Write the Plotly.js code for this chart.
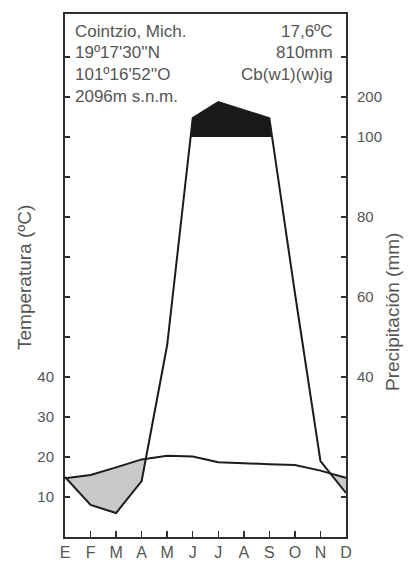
<!DOCTYPE html>
<html>
<head>
<meta charset="utf-8">
<script src="https://cdn.plot.ly/plotly-3.0.1.min.js"></script>
<style>html,body{margin:0;padding:0;background:#fff;}#chart{width:408px;height:563px;}</style>
</head>
<body>
<div id="chart"></div>
<script>
// ---- data ----
const months = ['E','F','M','A','M','J','J','A','S','O','N','D'];
const temperature = [14.7, 15.5, 17.4, 19.4, 20.3, 20.1, 18.7, 18.4, 18.2, 18.0, 16.6, 14.8];
const precipitation = [15, 8, 6, 14, 48, 147, 187, 167, 147, 61, 19, 11];
const stationLeft = ['Cointzio, Mich.', "19º17'30''N", "101º16'52''O", '2096m s.n.m.'];
const stationRight = ['17,6ºC', '810mm', 'Cb(w1)(w)ig'];
const tempTickLabels = ['10','20','30','40'];
const precTickLabels = {40:'40', 60:'60', 80:'80', 100:'100', 200:'200'};

// Walter-Lieth precipitation scale: linear up to 100 mm, 1/10 above
function pScale(p){ return p <= 100 ? p : 100 + (p - 100) / 10; }
const precD = precipitation.map(pScale);
const xIdx = months.map((m,i)=>i);

function interp(arr, x){
  const i = Math.min(Math.floor(x), arr.length - 2);
  const f = x - i;
  return arr[i] + (arr[i+1] - arr[i]) * f;
}
const xs = [];
for (let i = 0; i < xIdx.length; i++){
  xs.push(i);
  if (i < xIdx.length - 1){
    const cands = [];
    const d0 = temperature[i] - precD[i], d1 = temperature[i+1] - precD[i+1];
    if (d0 * d1 < 0) cands.push(i + d0 / (d0 - d1));
    const e0 = precD[i] - 100, e1 = precD[i+1] - 100;
    if (e0 * e1 < 0) cands.push(i + e0 / (e0 - e1));
    cands.sort((a,b)=>a-b).forEach(c=>xs.push(c));
  }
}
function regions(upperF, lowerF){
  const px = [], py = [];
  let seg = [];
  const flush = () => {
    if (seg.length >= 2){
      seg.forEach(x=>{px.push(x); py.push(upperF(x));});
      seg.slice().reverse().forEach(x=>{px.push(x); py.push(lowerF(x));});
      px.push(null); py.push(null);
    }
    seg = [];
  };
  xs.forEach(x=>{
    if (upperF(x) - lowerF(x) >= -1e-9) seg.push(x); else flush();
  });
  flush();
  return {x: px, y: py};
}
const T = x => interp(temperature, x);
const P = x => interp(precD, x);
const dry = regions(T, P);
const wet = regions(P, x => 100);

const lineCol = '#1c1c1c';
const axisCol = '#2e2e2e';
const txtCol = '#555555';
const fontFam = 'Liberation Sans, Arial, Helvetica, sans-serif';

const traces = [
  {x: dry.x, y: dry.y, type:'scatter', mode:'lines', fill:'toself', fillcolor:'#c8c9cb', line:{width:0}, hoverinfo:'skip'},
  {x: wet.x, y: wet.y, type:'scatter', mode:'lines', fill:'toself', fillcolor:'#1a1a1a', line:{width:0}, hoverinfo:'skip'},
  {x: xIdx, y: temperature, type:'scatter', mode:'lines', line:{color:lineCol, width:2}},
  {x: xIdx, y: precD, type:'scatter', mode:'lines', line:{color:lineCol, width:2}, yaxis:'y2'}
];

const yTop = 130.75;
const tvals = [10,20,30,40,50,60,70,80,90,100,110,120];
const leftText = tvals.map((v,i)=> i < tempTickLabels.length ? tempTickLabels[i] : '');
const rightText = tvals.map(v => { const mm = v <= 100 ? v : 100 + (v-100)*10; return precTickLabels[mm] || ''; });

const H = 523, W = 281, L = 65;
const py2 = y => (537 - y) / H;
const px2 = x => (x - L) / W;

const ann = [];
const rowsY = [31, 52.5, 74, 96];
stationLeft.forEach((t,i)=>ann.push({text:t, xref:'paper', yref:'paper', x:px2(73), y:py2(rowsY[i]), xanchor:'left', yanchor:'middle', showarrow:false, font:{size:17, color:txtCol, family:fontFam}}));
stationRight.forEach((t,i)=>ann.push({text:t, xref:'paper', yref:'paper', x:px2(335), y:py2(rowsY[i]), xanchor:'right', yanchor:'middle', showarrow:false, font:{size:17, color:txtCol, family:fontFam}}));
ann.push({text:'Temperatura (ºC)', xref:'paper', yref:'paper', x:px2(24), y:py2(278), xanchor:'center', yanchor:'middle', textangle:-90, showarrow:false, font:{size:19, color:txtCol, family:fontFam}});
ann.push({text:'Precipitación (mm)', xref:'paper', yref:'paper', x:px2(392), y:py2(312), xanchor:'center', yanchor:'middle', textangle:-90, showarrow:false, font:{size:19, color:txtCol, family:fontFam}});

const layout = {
  width:408, height:563,
  margin:{l:65, r:62, t:14, b:26, pad:0},
  paper_bgcolor:'#fff', plot_bgcolor:'#fff',
  showlegend:false,
  xaxis:{range:[0,11], tickvals:xIdx, ticktext:months, ticks:'inside', ticklen:6, tickwidth:1.5, tickcolor:axisCol,
         showline:true, linecolor:axisCol, linewidth:2, mirror:true, showgrid:false, zeroline:false,
         tickfont:{size:16, color:txtCol, family:fontFam}, ticklabelstandoff:0, fixedrange:true},
  yaxis:{range:[0,yTop], tickvals:tvals, ticktext:leftText, ticks:'inside', ticklen:5, tickwidth:1.5, tickcolor:axisCol,
         showline:true, linecolor:axisCol, linewidth:2, showgrid:false, zeroline:false,
         tickfont:{size:15, color:txtCol, family:fontFam}, ticklabelstandoff:6},
  yaxis2:{range:[0,yTop], overlaying:'y', side:'right', tickvals:tvals, ticktext:rightText, ticks:'inside', ticklen:5, tickwidth:1.5, tickcolor:axisCol,
         showline:true, linecolor:axisCol, linewidth:2, showgrid:false, zeroline:false,
         tickfont:{size:15, color:txtCol, family:fontFam}, ticklabelstandoff:6},
  annotations: ann
};
Plotly.newPlot('chart', traces, layout, {staticPlot:true, displayModeBar:false});
</script>
</body>
</html>
